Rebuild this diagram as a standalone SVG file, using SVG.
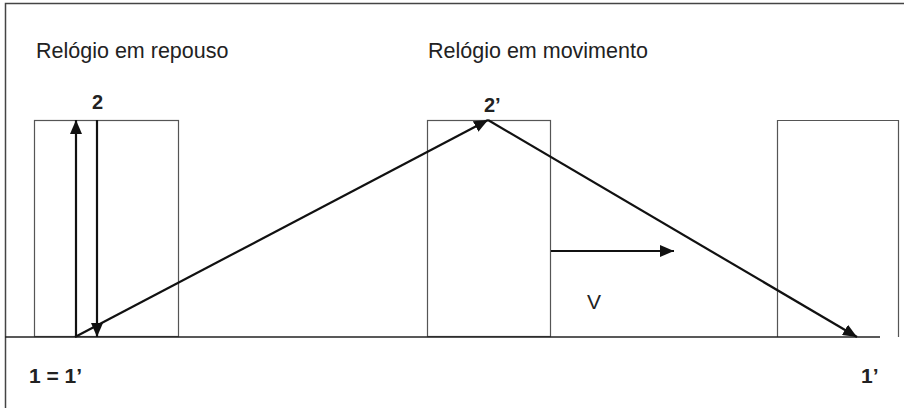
<svg xmlns="http://www.w3.org/2000/svg" width="904" height="408" viewBox="0 0 904 408">
<style>
.box{fill:none;stroke:#555;stroke-width:1.2}
.arr{fill:none;stroke:#111;stroke-width:2.2}
.t{font-family:"Liberation Sans",Arial,sans-serif;fill:#222}
.b{font-weight:bold}
</style>
<defs>
<marker id="ah" markerUnits="userSpaceOnUse" markerWidth="14" markerHeight="12" refX="14" refY="6" orient="auto">
<path d="M0,0 L14,6 L0,12 Z" fill="#111"/>
</marker>
</defs>
<rect width="904" height="408" fill="#fff"/>
<g id="frame">
<path d="M5.5,408 V3.5 H904" fill="none" stroke="#444" stroke-width="1.5"/>
</g>
<g id="titles">
<text class="t" x="36" y="58" font-size="21.5">Relógio em repouso</text>
<text class="t" x="428" y="58" font-size="21.5">Relógio em movimento</text>
</g>
<g id="clock-rest">
<rect class="box" x="34.5" y="120.5" width="144" height="216"/>
</g>
<g id="clock-moving">
<rect class="box" x="427.5" y="120.5" width="123" height="216"/>
</g>
<g id="clock-later">
<path class="box" d="M777.5,337 V120.5 H898.5 V337"/>
</g>
<g id="ground">
<line x1="5" y1="337" x2="880" y2="337" stroke="#222" stroke-width="1.5"/>
</g>
<g id="connectors">
<line class="arr" x1="76" y1="337" x2="76" y2="120" marker-end="url(#ah)"/>
<line class="arr" x1="97" y1="120" x2="97" y2="337" marker-end="url(#ah)"/>
<line class="arr" x1="75" y1="337" x2="488" y2="120" marker-end="url(#ah)"/>
<line class="arr" x1="488" y1="120" x2="857" y2="337" marker-end="url(#ah)"/>
<line class="arr" x1="551" y1="251" x2="674" y2="251" marker-end="url(#ah)"/>
</g>
<g id="labels">
<text class="t b" x="92" y="109" font-size="20">2</text>
<text class="t b" x="484" y="112" font-size="20">2’</text>
<text class="t b" x="29" y="383" font-size="21">1 = 1’</text>
<text class="t b" x="861" y="383" font-size="21">1’</text>
<text class="t" x="587" y="309" font-size="21">V</text>
</g>
</svg>
